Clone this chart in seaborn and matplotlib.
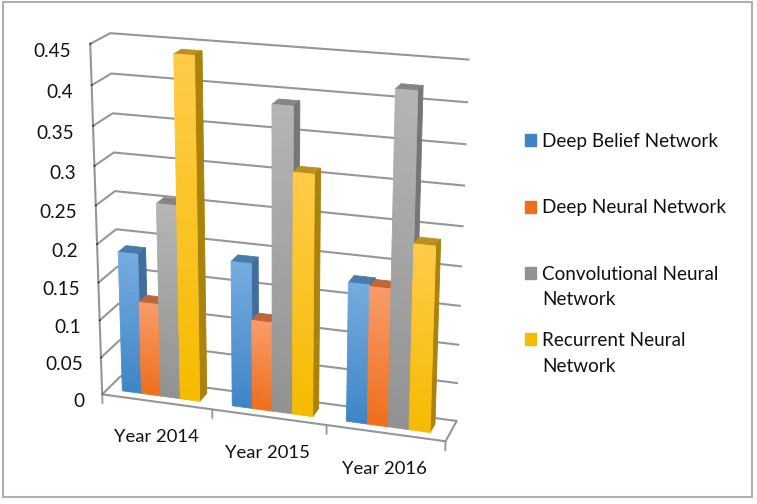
import matplotlib
matplotlib.use("Agg")
import matplotlib.pyplot as plt
from matplotlib.patches import Rectangle
import numpy as np
import seaborn as sns

# Data
years = ["Year 2014", "Year 2015", "Year 2016"]
networks = ["Deep Belief Network\n ", "Deep Neural Network\n ",
            "Convolutional Neural\nNetwork", "Recurrent Neural\nNetwork"]
deep_belief = [0.186, 0.19, 0.18]
deep_neural = [0.123, 0.117, 0.178]
convolutional = [0.254, 0.39, 0.42]
recurrent = [0.441, 0.31, 0.237]
z_ticks = [0, 0.05, 0.1, 0.15, 0.2, 0.25, 0.3, 0.35, 0.4, 0.45]
z_labels = ["0", "0.05", "0.1", "0.15", "0.2", "0.25", "0.3", "0.35", "0.4", "0.45"]

series = [deep_belief, deep_neural, convolutional, recurrent]
light = ["#74ABDE", "#F99A68", "#B4B4B4", "#FFCB47"]
dark = ["#3F85C6", "#EE6F1C", "#929292", "#F5BB00"]
side = ["#3F6E9E", "#B05C28", "#767676", "#AB820C"]
cap = ["#4A7CAB", "#C0663A", "#858585", "#BC9020"]

sns.set_theme(style="white")
plt.rcParams["font.family"] = ["Lato", "DejaVu Sans"]

W, H = 757, 504
GRID = "#969696"
TEXT = "#111111"
fig = plt.figure(figsize=(W / 100, H / 100), dpi=100)
ax = fig.add_axes([-10 / W, 22 / H, 560 / W, 480 / H], projection="3d", computed_zorder=False)
ax.patch.set_alpha(0)
ax.view_init(elev=19, azim=-72)
ax.set_proj_type("persp", focal_length=0.7)
ax.set_box_aspect((367, 50, 374), zoom=1.07)

ax.set_xlim(0, 3, view_margin=0)
ax.set_ylim(0, 1, view_margin=0)
ax.set_zlim(0, 0.45, view_margin=0)

bar_w = 0.177
gap = 0.135
n_steps = 30
for j, values in enumerate(series):
    shades = sns.blend_palette([dark[j], light[j]], n_steps)
    for i, v in enumerate(values):
        x0 = i + gap + j * bar_w
        edges = np.linspace(0, v, n_steps + 1)
        for k in range(n_steps):
            clear = (0, 0, 0, 0)
            top = cap[j] if k == n_steps - 1 else clear
            faces = [clear, top, shades[k], clear, clear, side[j]]
            faces = [matplotlib.colors.to_rgba(c) for c in faces]
            ax.bar3d([x0], [0.3], [edges[k]], bar_w, 0.42, edges[k + 1] - edges[k],
                     color=faces, edgecolor=faces, linewidth=0.6, shade=False,
                     zorder=10 + (i * 4 + j) * 100 + k)

# separators on the category axis
for b in range(4):
    ax.plot([b, b], [0, 0], [0, -0.012], color=GRID, lw=1.3, zorder=5)

ax.set_xticks([0.5, 1.5, 2.5], years, fontsize=13.3, color=TEXT)
ax.set_yticks([])
ax.set_zticks(z_ticks, z_labels, fontsize=13.7, color=TEXT)
ax.zaxis.set_ticks_position("lower")
for t in ax.get_zticklabels():
    t.set_ha("right")
ax.tick_params(axis="z", pad=1.5)
ax.tick_params(axis="x", pad=6)
for axis in (ax.xaxis, ax.yaxis, ax.zaxis):
    axis.pane.set_visible(False)
    axis.line.set_color(GRID)
    axis.line.set_linewidth(1.5)
ax.xaxis._axinfo["grid"]["linewidth"] = 0
ax.yaxis._axinfo["grid"]["linewidth"] = 0
ax.zaxis._axinfo["grid"].update(color=GRID, linewidth=1.5)
ax.grid(True)
ax.xaxis._axinfo["tick"]["linewidth"] = {True: 0, False: 0}
ax.zaxis._axinfo["tick"].update(color=GRID, linewidth={True: 1.3, False: 1.3},
                                inward_factor=0, outward_factor=0.2)

handles = [Rectangle((0, 0), 1, 1, color=c) for c in dark]
leg = fig.legend(handles, networks, loc="upper left", bbox_to_anchor=(525 / W, 1 - 133 / H),
                 bbox_transform=fig.transFigure, frameon=False, fontsize=13.6,
                 labelcolor=TEXT, handlelength=0.58, handleheight=0.58, handletextpad=0.32,
                 labelspacing=1.25, borderpad=0, borderaxespad=0)
for t in leg.get_texts():
    t.set_linespacing(1.62)
for h in leg.legend_handles:
    h.set_y(h.get_y() + 10.3)

fig.add_artist(Rectangle((3 / W, 7 / H), 749 / W, 495 / H, transform=fig.transFigure,
                         fill=False, edgecolor="#B0B0B0", linewidth=1.5))

fig.savefig("out.png", dpi=100)
